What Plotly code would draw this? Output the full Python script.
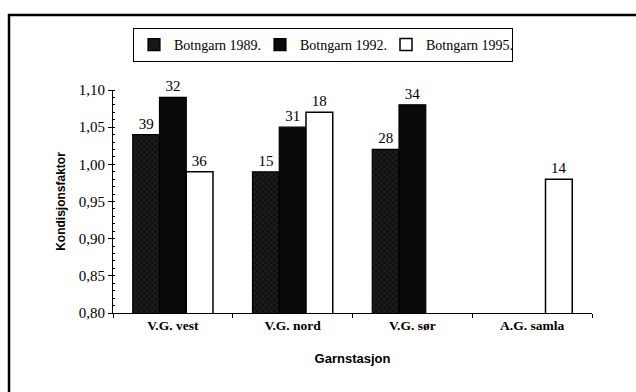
import plotly.graph_objects as go

# Garnstasjonar og kondisjonsfaktor per år (n = antal fisk over søylene)
stasjonar = ["V.G. vest", "V.G. nord", "V.G. sør", "A.G. samla"]
k_1989 = [1.04, 0.99, 1.02, None]
k_1992 = [1.09, 1.05, 1.08, None]
k_1995 = [0.99, 1.07, None, 0.98]
n_1989 = ["39", "15", "28", None]
n_1992 = ["32", "31", "34", None]
n_1995 = ["36", "18", None, "14"]
y_ticks = [0.80, 0.85, 0.90, 0.95, 1.00, 1.05, 1.10]

serif = "Liberation Serif, Times New Roman, serif"
sans = "Liberation Sans, Arial, sans-serif"

W, H = 636, 392
L, R, T, B = 113, 44, 90, 79

fig = go.Figure()

fig.add_trace(go.Bar(
    name="Botngarn 1989.", x=stasjonar, y=k_1989, text=n_1989,
    marker=dict(color="#111111", line=dict(color="black", width=1.2),
                pattern=dict(shape="x", fgcolor="#5a5a5a", bgcolor="#111111",
                             size=4, solidity=0.2)),
))
fig.add_trace(go.Bar(
    name="Botngarn 1992.", x=stasjonar, y=k_1992, text=n_1992,
    marker=dict(color="#0a0a0a", line=dict(color="black", width=1.2)),
))
fig.add_trace(go.Bar(
    name="Botngarn 1995.", x=stasjonar, y=k_1995, text=n_1995,
    marker=dict(color="white", line=dict(color="black", width=1.5)),
))

fig.update_traces(textposition="outside", cliponaxis=False,
                  textfont=dict(family=serif, size=15, color="black"))

# ramme rundt heile figuren: topp- og venstrekant
def px_x(p):
    return (p - L) / (W - L - R)

def px_y(p):
    return (H - B - p) / (H - T - B)

frame = dict(color="black", width=2.5)
fig.add_shape(type="line", xref="paper", yref="paper",
              x0=px_x(8), x1=px_x(W + 5), y0=px_y(15), y1=px_y(15), line=frame)
fig.add_shape(type="line", xref="paper", yref="paper",
              x0=px_x(9), x1=px_x(9), y0=px_y(14), y1=px_y(H + 5), line=frame)

fig.update_layout(
    width=W, height=H,
    margin=dict(l=L, r=R, t=T, b=B),
    paper_bgcolor="white", plot_bgcolor="white",
    barmode="group", bargap=0.33, bargroupgap=0,
    separators=", ",
    showlegend=True,
    legend=dict(orientation="h", xref="container", yref="container",
                x=133 / W, y=1 - 28 / H, xanchor="left", yanchor="top",
                bordercolor="black", borderwidth=1, bgcolor="white",
                font=dict(family=serif, size=14, color="black"),
                entrywidth=81, entrywidthmode="pixels",
                itemwidth=30, tracegroupgap=0),
    xaxis=dict(
        showline=True, linecolor="black", linewidth=1.2,
        ticks="outside", ticklen=4, tickcolor="black", tickson="boundaries",
        tickfont=dict(family=serif, size=13.5, color="black"),
        title=dict(text="<b>Garnstasjon</b>", standoff=21,
                   font=dict(family=sans, size=13, color="black")),
        showgrid=False,
    ),
    yaxis=dict(
        range=[0.8, 1.1], tickvals=y_ticks, tickformat=".2f",
        showline=True, linecolor="black", linewidth=1.2,
        ticks="outside", ticklen=4, tickcolor="black",
        minor=dict(dtick=0.01, ticks="inside", ticklen=2, tickcolor="black"),
        tickfont=dict(family=serif, size=15, color="black"),
        title=dict(text="<b>Kondisjonsfaktor</b>", standoff=10,
                   font=dict(family=sans, size=12, color="black")),
        showgrid=False, zeroline=False,
    ),
)

fig.update_xaxes(ticktext=["<b>" + s + "</b>" for s in stasjonar], tickvals=stasjonar)

fig.write_html("out.html")
